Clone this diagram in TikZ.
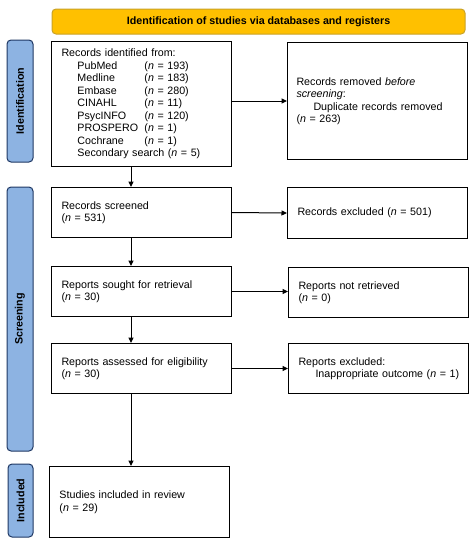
\documentclass[tikz,border=0pt]{standalone}
\usepackage{fontspec}
\setmainfont{Liberation Sans}
\usetikzlibrary{positioning,calc}
\usetikzlibrary{arrows.meta}
\definecolor{bannerfill}{HTML}{FFC000}
\definecolor{bannerline}{HTML}{C9A227}
\definecolor{phasefill}{HTML}{8DB3E2}
\definecolor{phaseline}{HTML}{1F3864}
\tikzset{
  stagebox/.style={draw, line width=1pt, anchor=north west, minimum width=180pt,
    text width=160pt, inner xsep=10pt, inner ysep=0pt, align=left,
    font=\fontsize{10.7}{12.5}\selectfont},
  phase/.style={draw=phaseline, fill=phasefill, line width=1pt, rounded corners=4pt,
    rotate=90, minimum height=26pt, inner sep=0pt, font=\bfseries\fontsize{10.7}{12.5}\selectfont},
  arr/.style={line width=1pt, -{Triangle[length=5.5pt,width=5pt]}}
}
\newcommand{\srcline}[2]{\hspace*{16pt}\makebox[67pt][l]{#1}(\textit{n} = #2)}
\begin{document}
\begin{tikzpicture}[x=1pt,y=-1pt]
    \useasboundingbox (0,0) rectangle (474,542);
    \node (banner) [draw=bannerline, fill=bannerfill, line width=1pt, rounded corners=4pt,
      minimum width=413pt, minimum height=25pt, font=\bfseries\fontsize{10.7}{12.5}\selectfont]
      at (258.5,21.5) {Identification of studies via databases and registers};
    % phases on the left
    \node (idphase) [phase, minimum width=122pt] at (20,101) {Identification};
    \node (scphase) [phase, minimum width=264pt] at (20,319) {Screening};
    \node (inphase) [phase, minimum width=73pt, minimum height=25pt] at (20.5,500.5) {Included};
    % identification
    \node (ident) [stagebox, minimum height=125pt] at (51,41) {Records identified from:\\
      \srcline{PubMed}{193}\\
      \srcline{Medline}{183}\\
      \srcline{Embase}{280}\\
      \srcline{CINAHL}{11}\\
      \srcline{PsycINFO}{120}\\
      \srcline{PROSPERO}{1}\\
      \srcline{Cochrane}{1}\\
      \hspace*{16pt}Secondary search (\textit{n} = 5)};
    \node (removed) [stagebox, minimum height=117pt, text width=162pt, inner xsep=9pt] at (287,42)
      {Records removed \textit{before}\\ \textit{screening}:\\
      \hspace*{17pt}Duplicate records removed\\ (\textit{n} = 263)};
    % screening
    \node (screened) [stagebox, minimum height=50pt] at (51,187) {Records screened\\ (\textit{n} = 531)};
    \node (excluded) [stagebox, minimum height=51pt] at (287,187) {Records excluded (\textit{n} = 501)};
    \node (sought) [stagebox, minimum height=50pt] at (51,266) {Reports sought for retrieval\\ (\textit{n} = 30)};
    \node (notret) [stagebox, minimum height=50pt] at (288,267) {Reports not retrieved\\ (\textit{n} = 0)};
    \node (assessed) [stagebox, minimum height=50pt] at (51,343) {Reports assessed for eligibility\\ (\textit{n} = 30)};
    \node (repexcl) [stagebox, minimum height=50pt] at (288,343) {Reports excluded:\\
      \hspace*{17pt}\rlap{Inappropriate outcome (\textit{n} = 1)}};
    % included
    \node (included) [stagebox, minimum height=71pt] at (49,466) {Studies included in review\\ (\textit{n} = 29)};
    % connectors
    \coordinate (spine) at (131,0);
    \draw[arr] (ident.south -| spine) -- (screened.north -| spine);
    \draw[arr] (screened.south -| spine) -- (sought.north -| spine);
    \draw[arr] (sought.south -| spine) -- (assessed.north -| spine);
    \draw[arr] (assessed.south -| spine) -- (included.north -| spine);
    \draw[arr] (ident.east |- removed.west) -- (removed.west);
    \draw[arr] (screened.east) -- (excluded.west);
    \draw[arr] (sought.east) -- (sought.east -| notret.west);
    \draw[arr] (assessed.east) -- (repexcl.west);
\end{tikzpicture}
\end{document}
